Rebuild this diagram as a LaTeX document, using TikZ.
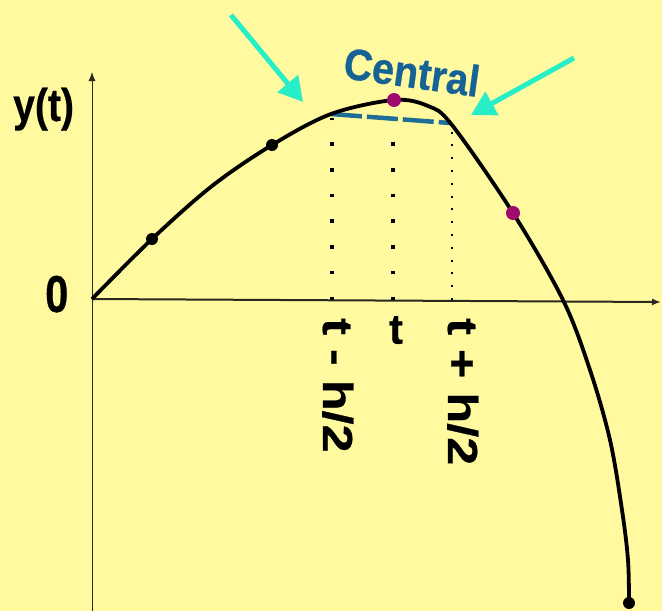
\documentclass[tikz,border=0pt]{standalone}
\usepackage{fontspec}
\setmainfont{Liberation Sans}
\newfontfamily\heavyfont[FakeBold=0.6]{Liberation Sans Bold}
\usetikzlibrary{arrows.meta}
\definecolor{bgyellow}{RGB}{255,250,160}
\definecolor{centralblue}{RGB}{22,98,148}
\definecolor{dashblue}{RGB}{30,110,150}
\definecolor{cyanarrow}{RGB}{40,238,200}
\definecolor{dotmagenta}{RGB}{160,10,110}
\definecolor{axisdark}{RGB}{40,40,30}
\tikzset{
  axisline/.style={draw=axisdark, line width=1pt, -{Latex[length=9pt,width=7pt]}},
  curveline/.style={draw=black, line width=3.8pt},
  blackdot/.style={circle, fill=black, inner sep=0pt, minimum size=12pt},
  magdot/.style={circle, fill=dotmagenta, inner sep=0pt, minimum size=14pt},
  dotline/.style={draw=black, line width=3.5pt, dash pattern=on 3.5pt off 22.2pt},
  finedotline/.style={draw=black, line width=1.8pt, dash pattern=on 2pt off 10.8pt},
  cdash/.style={draw=dashblue, line width=4.5pt, dash pattern=on 31pt off 5pt},
  cyanarr/.style={draw=cyanarrow, line width=5pt, -{Triangle[length=24pt,width=26pt]}},
  lbl/.style={inner sep=0pt, font=\heavyfont\fontsize{42}{42}\selectfont},
}
\begin{document}
\begin{tikzpicture}[x=1pt,y=-1pt]
\fill[bgyellow] (0,0) rectangle (662,611);
\useasboundingbox (0,0) rectangle (662,611);
% axes
\coordinate (o) at (92,299);
\coordinate (ybot) at (92,611);
\coordinate (ytop) at (92,72);
\coordinate (xend) at (661,302);
\draw[axisline] (ybot) -- (ytop);
\draw[axisline, line width=2pt] (o) -- (xend);
% key points
\coordinate (pl) at (331,114);
\coordinate (pr) at (450,123);
\coordinate (pc) at (394,100);
% dotted verticals
\coordinate (bl) at (332,300);
\coordinate (bc) at (393,300);
\coordinate (br) at (452,300);
\draw[dotline] (bl) -- (332,118);
\draw[dotline] (bc) -- (393,128);
\draw[finedotline] (br) -- (452,128);
% dashed chord
\draw[cdash] (pl) -- (pr);
% curve
\draw[curveline] plot[smooth, tension=0.55] coordinates {
 (92,299) (152,239) (212,186) (272,145) (331,114) (394,100) (428,106)
 (452,125) (513,213) (563,300) (590,370) (610,440)
 (622,510) (628,560) (629,603)};
% dots
\node[blackdot] (d1) at (152,239) {};
\node[blackdot] (d2) at (272,145) {};
\node[blackdot] (d3) at (629,603) {};
\node[magdot] (m1) at (394,100) {};
\node[magdot] (m2) at (513,213) {};
% labels
\node[lbl, anchor=base west] (ylab) at (13,121) {\scalebox{0.85}[1]{\fontsize{46}{46}\selectfont y(t)}};
\node[lbl, anchor=base west] (zero) at (45,312) {\scalebox{0.8}[1]{\fontsize{52}{52}\selectfont 0}};
\node[lbl, anchor=north] (tlab) at (396,316) {t};
\node[lbl, anchor=base west, rotate=-90] (tm) at (323,318) {\scalebox{1.2}[1]{t - h/2}};
\node[lbl, anchor=base west, rotate=-90] (tp) at (448,318) {\scalebox{1.2}[1]{t + h/2}};
\node[lbl, anchor=base west, rotate=-8, text=centralblue] (central) at (342,78) {\scalebox{0.9}[1]{\fontsize{44}{44}\selectfont Central}};
% cyan arrows
\coordinate (a1s) at (231,15);
\coordinate (a1e) at (303,102);
\coordinate (a2s) at (574,58);
\coordinate (a2e) at (471,115);
\draw[cyanarr] (a1s) -- (a1e);
\draw[cyanarr] (a2s) -- (a2e);
\end{tikzpicture}
\end{document}
